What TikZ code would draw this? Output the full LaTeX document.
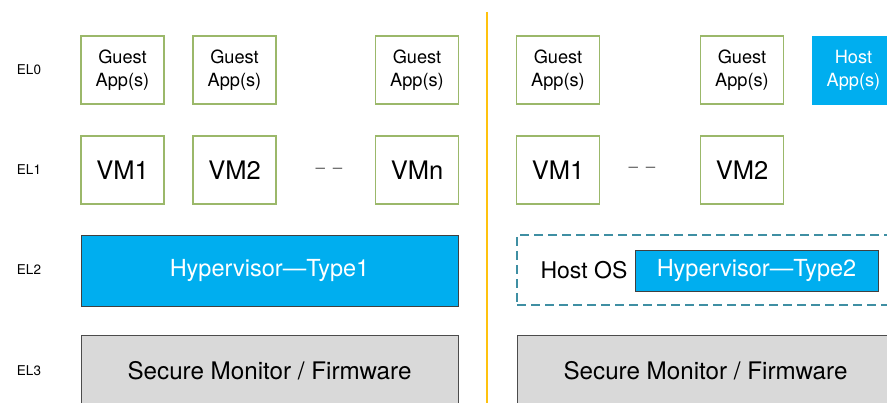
\documentclass[tikz,border=0pt]{standalone}
\usepackage{fontspec}
\setmainfont{TeX Gyre Heros}
\begin{document}
\begin{tikzpicture}[x=1pt,y=-1pt,
  every node/.style={inner sep=0pt, outer sep=0pt, font=\fontsize{17}{21}\selectfont},
  gbox/.style={draw=greenB, line width=1.2pt, fill=white, minimum width=83pt, minimum height=68pt, align=center, font=\fontsize{18.2}{23}\selectfont},
  vmbox/.style={gbox, font=\fontsize{25.5}{28}\selectfont},
  hostbox/.style={fill=hypBlue, draw=hypBlue, minimum width=83pt, minimum height=68pt, align=center, text=white, font=\fontsize{18.2}{23}\selectfont},
  hypbox/.style={fill=hypBlue, draw=black!75, line width=0.8pt, text=white, font=\fontsize{23.5}{26}\selectfont},
  fwbox/.style={fill=fwGray, draw=black!70, line width=0.8pt, minimum width=377pt, minimum height=71pt, font=\fontsize{24.2}{26}\selectfont},
  ellabel/.style={font=\fontsize{13.5}{15}\selectfont},
  gapdash/.style={text=black!60, font=\fontsize{17}{18}\selectfont}
]
\definecolor{greenB}{HTML}{9BB86A}
\definecolor{hypBlue}{HTML}{00AEEF}
\definecolor{fwGray}{HTML}{D9D9D9}
\definecolor{hostDash}{HTML}{3F8FA3}
\definecolor{splitLine}{HTML}{FFC20E}
\useasboundingbox (0,0) rectangle (887,403);
\clip (0,0) rectangle (887,403);

% exception level labels
\node[ellabel] (el0) at (29,70) {EL0};
\node[ellabel] (el1) at (29,170) {EL1};
\node[ellabel] (el2) at (29,270) {EL2};
\node[ellabel] (el3) at (29,371) {EL3};

% left half: type 1 hypervisor
\node[gbox] (ga1) at (122.5,70) {Guest\\App(s)};
\node[gbox] (ga2) at (234.5,70) {Guest\\App(s)};
\node[gbox] (ga3) at (417,70) {Guest\\App(s)};
\node[vmbox] (vm1) at (122.5,170) {VM1};
\node[vmbox] (vm2) at (234.5,170) {VM2};
\node[vmbox] (vmn) at (417,170) {VMn};
\node[gapdash] (gapL) at (329,171) {–\hspace{8pt}–};
\node[hypbox, minimum width=377pt, minimum height=71pt] (hyp1) at (269.5,270.5) {Hypervisor—Type1};
\node[fwbox] (fw1) at (269.5,370.5) {Secure Monitor / Firmware};

% divider
\coordinate (divTop) at (487,12);
\coordinate (divBot) at (487,403);
\draw[splitLine, line width=1.5pt] (divTop) -- (divBot);

% right half: type 2 hypervisor
\node[gbox] (gb1) at (558,70) {Guest\\App(s)};
\node[gbox] (gb2) at (742,70) {Guest\\App(s)};
\node[hostbox] (happ) at (853.5,70) {Host\\App(s)};
\node[vmbox] (vmb1) at (558,170) {VM1};
\node[vmbox] (vmb2) at (742,170) {VM2};
\node[gapdash] (gapR) at (642,170) {–\hspace{8pt}–};
\node[draw=hostDash, dashed, dash pattern=on 9pt off 5pt, line width=1.8pt, minimum width=377pt, minimum height=70pt] (hostos) at (705.5,270) {};
\node (hostlbl) at (584,270) {\fontsize{23}{26}\selectfont Host OS};
\node[hypbox, minimum width=243pt, minimum height=41pt] (hyp2) at (756.5,270.5) {Hypervisor—Type2};
\node[fwbox] (fw2) at (705.5,370.5) {Secure Monitor / Firmware};
\end{tikzpicture}
\end{document}
